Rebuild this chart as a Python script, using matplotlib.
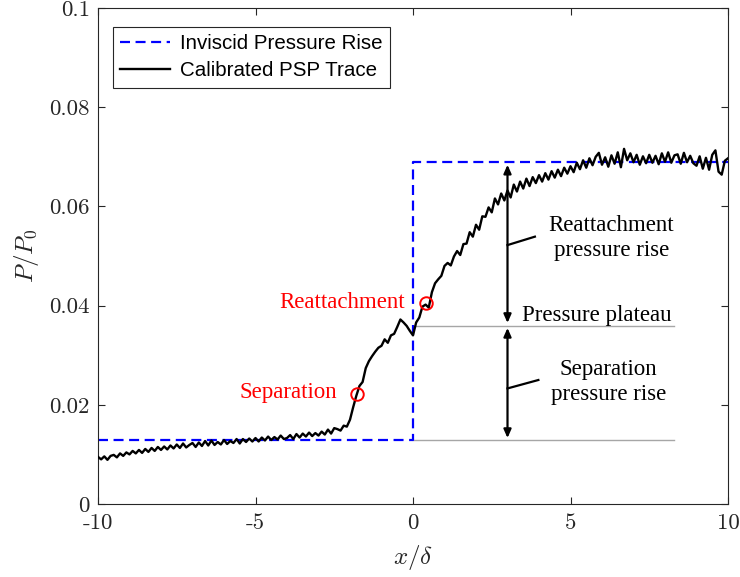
import numpy as np
import matplotlib
matplotlib.use("Agg")
import matplotlib.pyplot as plt
from matplotlib.patches import FancyArrowPatch

plt.rcParams['mathtext.fontset'] = 'cm'

# x/delta sampling of the PSP trace (every 0.1 delta)
x_psp = np.linspace(-10, 10, 201)
# calibrated PSP trace, P/P0
p_psp = [
    0.0095, 0.0090, 0.0096, 0.0089, 0.0097, 0.0099, 0.0094, 0.0102, 0.0097, 0.0104,
    0.0100, 0.0107, 0.0102, 0.0109, 0.0103, 0.0111, 0.0105, 0.0113, 0.0107, 0.0115,
    0.0109, 0.0116, 0.0110, 0.0118, 0.0112, 0.0120, 0.0113, 0.0122, 0.0114, 0.0119,
    0.0123, 0.0115, 0.0124, 0.0117, 0.0127, 0.0118, 0.0128, 0.0119, 0.0125, 0.0120,
    0.0129, 0.0121, 0.0127, 0.0123, 0.0131, 0.0122, 0.0131, 0.0125, 0.0132, 0.0126,
    0.0133, 0.0126, 0.0134, 0.0128, 0.0136, 0.0129, 0.0135, 0.0130, 0.0138, 0.0131,
    0.0133, 0.0139, 0.0131, 0.0141, 0.0134, 0.0142, 0.0136, 0.0144, 0.0137, 0.0143,
    0.0138, 0.0146, 0.0140, 0.0150, 0.0142, 0.0153, 0.0151, 0.0148, 0.0158, 0.0156,
    0.0170, 0.0195, 0.0218, 0.0238, 0.0246, 0.0274, 0.0288, 0.0298, 0.0307, 0.0315,
    0.0319, 0.0332, 0.0325, 0.0340, 0.0343, 0.0357, 0.0372, 0.0366, 0.0359, 0.0349,
    0.0340, 0.0366, 0.0376, 0.0398, 0.0402, 0.0396, 0.0427, 0.0445, 0.0453, 0.0460,
    0.0480, 0.0486, 0.0481, 0.0499, 0.0510, 0.0502, 0.0524, 0.0525, 0.0548, 0.0539,
    0.0563, 0.0553, 0.0580, 0.0579, 0.0598, 0.0588, 0.0616, 0.0604, 0.0626, 0.0612,
    0.0632, 0.0618, 0.0644, 0.0630, 0.0650, 0.0636, 0.0656, 0.0641, 0.0659, 0.0647,
    0.0663, 0.0650, 0.0667, 0.0654, 0.0671, 0.0658, 0.0674, 0.0661, 0.0678, 0.0666,
    0.0681, 0.0669, 0.0688, 0.0675, 0.0693, 0.0678, 0.0697, 0.0683, 0.0700, 0.0708,
    0.0684, 0.0699, 0.0680, 0.0703, 0.0686, 0.0709, 0.0679, 0.0716, 0.0693, 0.0707,
    0.0689, 0.0704, 0.0684, 0.0701, 0.0687, 0.0704, 0.0688, 0.0702, 0.0685, 0.0707,
    0.0690, 0.0709, 0.0688, 0.0703, 0.0705, 0.0686, 0.0708, 0.0689, 0.0702, 0.0687,
    0.0682, 0.0701, 0.0676, 0.0698, 0.0674, 0.0704, 0.0713, 0.0670, 0.0664, 0.0692,
    0.0697,
]

# inviscid pressure rise (step at x = 0)
x_inv = [-10, 0, 0, 10]
p_inv = [0.0129, 0.0129, 0.0690, 0.0690]

# reference levels
p_upstream = 0.0129
p_plateau = 0.0358
x_ref_end = 8.3
x_arrow = 3.0

# marked points
sep_pt = (-1.78, 0.0222)
reat_pt = (0.40, 0.0405)

fig = plt.figure(figsize=(7.4, 5.77), dpi=100)
ax = fig.add_axes([98 / 740, 73 / 577, 630 / 740, 496 / 577])

axcol = '#262626'

ax.plot([0, x_ref_end], [p_plateau, p_plateau], color='#a6a6a6', lw=1.0, zorder=1)
ax.plot([0, x_ref_end], [p_upstream, p_upstream], color='#a6a6a6', lw=1.0, zorder=1)

ax.plot(x_inv, p_inv, color='#0000ff', lw=1.6, dashes=(4.5, 2.5),
        label='Inviscid Pressure Rise', zorder=2)
ax.plot(x_psp, p_psp, color='black', lw=1.7, label='Calibrated PSP Trace', zorder=3)

ax.plot(*sep_pt, 'o', mfc='none', mec='#ff0000', ms=9, mew=1.4, zorder=4)
ax.plot(*reat_pt, 'o', mfc='none', mec='#ff0000', ms=9, mew=1.4, zorder=4)

serif = 'Liberation Serif'
ax.text(-2.42, 0.0224, 'Separation', color='#ff0000', fontsize=16.5,
        family=serif, ha='right', va='center')
ax.text(-0.25, 0.0407, 'Reattachment', color='#ff0000', fontsize=16.5,
        family=serif, ha='right', va='center')

# double arrows
for y0, y1 in [(0.0365, 0.0684), (0.0133, 0.0355)]:
    arr = FancyArrowPatch((x_arrow, y0), (x_arrow, y1),
                          arrowstyle='<|-|>,head_length=0.5,head_width=0.22',
                          mutation_scale=10, color='black', lw=1.6,
                          shrinkA=0, shrinkB=0, zorder=5)
    ax.add_patch(arr)

# leader lines
ax.plot([x_arrow, 3.87], [0.0522, 0.0539], color='black', lw=1.6)
ax.plot([x_arrow, 3.98], [0.0233, 0.0250], color='black', lw=1.6)

ax.text(6.3, 0.0537, 'Reattachment\npressure rise', fontsize=16.5, family=serif,
        ha='center', va='center', linespacing=1.25)
ax.text(5.83, 0.0381, 'Pressure plateau', fontsize=16.5, family=serif,
        ha='center', va='center')
ax.text(6.2, 0.0245, 'Separation\npressure rise', fontsize=16.5, family=serif,
        ha='center', va='center', linespacing=1.25)

ax.set_xlim(-10, 10)
ax.set_ylim(0, 0.1)
ax.set_xticks([-10, -5, 0, 5, 10])
ax.set_xticklabels(['-10', '-5', '0', '5', '10'], fontname='cmr10', fontsize=16.5)
ax.set_yticks([0, 0.02, 0.04, 0.06, 0.08, 0.1])
ax.set_yticklabels(['0', '0.02', '0.04', '0.06', '0.08', '0.1'], fontname='cmr10', fontsize=16.5)
ax.tick_params(direction='in', length=5, width=0.8, colors=axcol,
               top=True, right=True)
ax.tick_params(axis='x', pad=7)
ax.tick_params(axis='y', pad=6)
for s in ax.spines.values():
    s.set_color(axcol)
    s.set_linewidth(0.8)

ax.set_xlabel(r'$x/\delta$', fontsize=18, color=axcol, labelpad=7)
ax.set_ylabel(r'$P/P_0$', fontsize=18, color=axcol, labelpad=6)

leg = ax.legend(loc='upper left', bbox_to_anchor=(15 / 630, 1 - 19 / 497),
                borderaxespad=0, prop={'family': 'Liberation Sans', 'size': 14.8},
                fancybox=False, framealpha=1, edgecolor=axcol,
                borderpad=0.35, labelspacing=0.4, handlelength=2.4,
                handletextpad=0.5)
leg.get_frame().set_linewidth(0.8)

fig.savefig('out.png', dpi=100)
